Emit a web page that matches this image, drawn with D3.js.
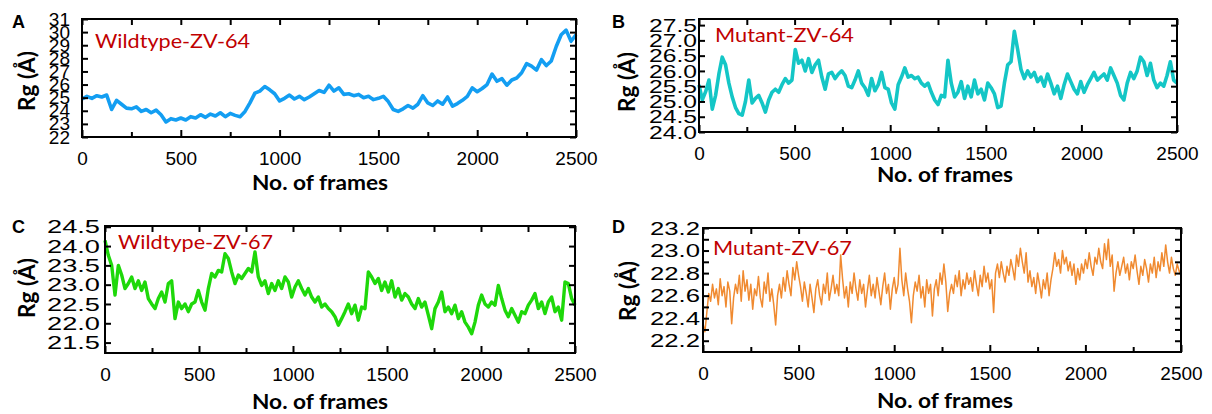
<!DOCTYPE html>
<html>
<head>
<meta charset="utf-8">
<script src="https://cdn.jsdelivr.net/npm/d3@7"></script>
<style>
  body { margin: 0; background: #fff; }
  svg { display: block; }
</style>
</head>
<body>
<svg id="fig" width="1212" height="414"></svg>
<script>
// x axis (frames)
const frameTicks = [0, 500, 1000, 1500, 2000, 2500]
const frameMinorTicks = [250, 750, 1250, 1750, 2250]

// y tick labels per panel
const rgTicksA = [22, 23, 24, 25, 26, 27, 28, 29, 30, 31]
const rgTicksB = [24.0, 24.5, 25.0, 25.5, 26.0, 26.5, 27.0, 27.5]
const rgTicksC = [21.5, 22.0, 22.5, 23.0, 23.5, 24.0, 24.5]
const rgTicksD = [22.2, 22.4, 22.6, 22.8, 23.0, 23.2]
const rgMinorD = [22.3, 22.5, 22.7, 22.9, 23.1]

// Rg values, evenly spaced over frames 0..2500
const wildtype64 = [
  24.9, 25.1, 24.95, 25.15, 25.05, 25.2, 24.1, 24.8, 24.5, 24.2,
  24.15, 24.3, 23.95, 24.1, 23.85, 24.05, 23.7, 23.15, 23.4, 23.3,
  23.45, 23.3, 23.55, 23.45, 23.7, 23.5, 23.75, 23.6, 23.85, 23.55,
  23.8, 23.65, 23.55, 23.95, 24.6, 25.35, 25.5, 25.85, 25.6, 25.3,
  24.75, 24.95, 25.2, 24.9, 25.1, 24.85, 25.05, 25.3, 25.55, 25.4,
  25.95, 25.5, 25.75, 25.25, 25.3, 25.15, 25.25, 25.0, 25.1, 24.85,
  24.95, 25.1, 24.7, 24.1, 23.95, 24.15, 24.4, 24.2, 24.5, 25.15,
  24.6, 24.4, 24.75, 24.5, 25.05, 24.35, 24.55, 24.8, 25.1, 25.75,
  25.45, 25.7, 26.0, 26.8, 26.25, 26.45, 25.95, 26.35, 26.5, 26.9,
  27.6, 27.4, 27.1, 27.9, 27.45, 27.8, 28.9, 29.8, 30.15, 29.3,
  29.8
]

const mutant64 = [
  25.54, 25.05, 25.32, 25.7, 24.75, 25.2, 25.9, 26.45, 26.2, 25.6,
  25.15, 24.8, 24.6, 24.55, 25.0, 25.7, 24.95, 25.1, 25.2, 24.95,
  24.65, 25.05, 25.3, 25.4, 25.3, 25.55, 25.75, 25.6, 25.7, 26.7,
  26.25, 26.35, 26.0, 26.4, 25.95, 26.2, 26.35, 25.8, 25.4, 25.9,
  25.95, 25.75, 25.9, 26.0, 25.85, 25.5, 25.45, 25.7, 26.0, 25.6,
  25.45, 25.2, 25.75, 25.35, 25.55, 25.95, 25.45, 25.4, 24.95, 24.75,
  25.55, 25.8, 26.1, 25.8, 25.85, 25.75, 25.8, 25.6, 25.5, 25.6,
  25.3, 25.05, 24.9, 25.2, 25.15, 26.35, 25.6, 25.15, 25.3, 25.65,
  25.1, 25.5, 25.15, 25.7, 25.25, 25.4, 25.05, 25.6, 25.45, 25.25,
  24.8, 24.85, 25.6, 26.2, 26.3, 27.3, 26.7, 26.05, 25.75, 26.0,
  25.8, 25.95, 25.65, 25.8, 25.5, 25.9, 25.6, 25.25, 25.5, 25.1,
  25.55, 25.9, 25.65, 25.4, 25.25, 25.65, 25.3, 25.55, 25.75, 25.95,
  25.7, 25.8, 25.9, 25.7, 26.1, 25.85, 25.6, 25.2, 25.05, 25.6,
  25.95, 25.75, 26.0, 26.45, 26.3, 25.85, 26.25, 25.7, 25.45, 25.6,
  25.5, 25.85, 26.3, 25.7, 25.6
]

const wildtype67 = [
  24.15, 23.76, 23.5, 22.73, 23.5, 23.25, 22.9, 23.03, 23.2, 22.9,
  23.1, 22.85, 23.07, 22.64, 22.5, 22.38, 22.64, 22.81, 22.55, 23.03,
  23.1, 22.12, 22.55, 22.38, 22.5, 22.3, 22.5, 22.55, 22.85, 22.55,
  22.34, 22.9, 23.29, 23.2, 23.37, 23.33, 23.8, 23.68, 23.33, 23.03,
  23.25, 23.16, 23.29, 23.42, 23.33, 23.85, 23.2, 22.98, 23.1, 22.77,
  23.03, 22.85, 23.1, 22.9, 23.2, 23.07, 22.68, 22.94, 23.1, 22.9,
  22.73, 22.9, 22.68, 22.55, 22.68, 22.42, 22.5, 22.38, 22.3, 22.17,
  21.95, 22.12, 22.3, 22.5, 22.25, 22.47, 22.08, 22.42, 22.38, 23.33,
  23.2, 23.03, 23.16, 22.85, 23.07, 22.81, 23.1, 22.68, 22.9, 22.6,
  22.77, 22.68, 22.5, 22.38, 22.64, 22.42, 22.55, 22.21, 21.86, 22.38,
  22.55, 22.81, 22.3, 22.42, 22.25, 22.47, 22.12, 22.3, 22.03, 21.9,
  21.73, 22.03, 22.47, 22.73, 22.5, 22.42, 22.55, 22.47, 22.98, 22.64,
  22.34, 22.17, 22.38, 22.21, 22.03, 22.3, 22.25, 22.47, 22.6, 22.77,
  22.38, 22.55, 22.25, 22.55, 22.68, 22.3, 22.42, 22.08, 23.07, 23.03,
  22.64, 22.47
]

const mutant67 = [
  22.35, 22.28, 22.45, 22.62, 22.55, 22.7, 22.58, 22.66, 22.52, 22.75,
  22.6, 22.68, 22.5, 22.72, 22.64, 22.35, 22.58, 22.7, 22.62, 22.78,
  22.55, 22.82, 22.64, 22.74, 22.56, 22.7, 22.48, 22.66, 22.6, 22.77,
  22.58, 22.5, 22.72, 22.62, 22.8, 22.55, 22.66, 22.52, 22.34, 22.6,
  22.7, 22.58, 22.76, 22.64, 22.82, 22.7, 22.6, 22.85, 22.74, 22.9,
  22.78, 22.68, 22.55, 22.72, 22.62, 22.5, 22.7, 22.58, 22.45, 22.66,
  22.74, 22.6, 22.52, 22.7, 22.62, 22.8, 22.56, 22.66, 22.78, 22.62,
  22.7, 22.6, 22.96, 22.75, 22.58, 22.68, 22.5, 22.72, 22.62, 22.8,
  22.66, 22.56, 22.74, 22.62, 22.7, 22.5, 22.65, 22.78, 22.6, 22.7,
  22.58, 22.76, 22.64, 22.52, 22.68, 22.8, 22.62, 22.7, 22.48, 22.66,
  22.76, 22.62, 22.7, 23.02, 22.74, 22.6, 22.8, 22.66, 22.55, 22.36,
  22.6, 22.72, 22.64, 22.78, 22.58, 22.68, 22.5, 22.74, 22.62, 22.7,
  22.42, 22.66, 22.74, 22.6, 22.8, 22.7, 22.88, 22.72, 22.46, 22.62,
  22.7, 22.62, 22.78, 22.68, 22.82, 22.6, 22.74, 22.66, 22.8, 22.7,
  22.76, 22.64, 22.82, 22.7, 22.6, 22.78, 22.68, 22.86, 22.72, 22.8,
  22.66, 22.74, 22.45, 22.8, 22.88, 22.76, 22.9, 22.8, 22.72, 22.86,
  22.78, 22.92, 22.84, 22.74, 22.96, 22.86, 23.02, 22.9, 22.8, 22.98,
  22.72, 22.82, 22.68, 22.76, 22.62, 22.8, 22.7, 22.58, 22.74, 22.66,
  22.8, 22.6, 22.74, 22.84, 22.98, 22.86, 22.92, 22.8, 23.0, 22.88,
  22.94, 22.82, 22.9, 22.78, 22.88, 22.7, 22.84, 22.74, 22.88, 22.8,
  22.92, 22.84, 22.98, 22.86, 22.78, 22.94, 22.88, 23.02, 22.9, 22.84,
  23.06, 22.92, 23.1, 22.86, 22.96, 22.64, 22.8, 22.9, 22.78, 22.86,
  22.94, 22.8, 22.88, 22.74, 22.9, 22.84, 22.96, 22.82, 22.7, 22.86,
  22.78, 22.92, 22.84, 22.72, 22.88, 22.8, 22.94, 22.76, 22.9, 22.82,
  22.98, 22.86, 23.05, 22.9, 22.8, 22.94, 22.84, 22.78, 22.88, 22.82,
  22.78
]

const panels = [
  { letter: 'A', title: 'Wildtype-ZV-64', values: wildtype64, color: '#139ef2', width: 3.6,
    left: 82, right: 576, top: 19, bottom: 137, yDomain: [22, 31], yTicks: rgTicksA, yMinor: [],
    fmt: d3.format('d'), gap: 12, labelLen: null,
    letterPos: [12, 28], titlePos: [95, 48, 155], xLabel: [320, 190], yLabel: [35, 81] },
  { letter: 'B', title: 'Mutant-ZV-64', values: mutant64, color: '#14c6c6', width: 3.6,
    left: 699, right: 1177, top: 19, bottom: 132, yDomain: [24, 27.7], yTicks: rgTicksB, yMinor: [],
    fmt: d3.format('.1f'), gap: 2, labelLen: 48,
    letterPos: [612, 28], titlePos: [715, 42, 139], xLabel: [945, 182], yLabel: [635, 82] },
  { letter: 'C', title: 'Wildtype-ZV-67', values: wildtype67, color: '#1ed80a', width: 3.4,
    left: 105, right: 575, top: 226, bottom: 353, yDomain: [21.23, 24.52], yTicks: rgTicksC, yMinor: [],
    fmt: d3.format('.1f'), gap: 5, labelLen: 53,
    letterPos: [12, 233], titlePos: [118, 249, 155], xLabel: [320, 409], yLabel: [35, 288] },
  { letter: 'D', title: 'Mutant-ZV-67', values: mutant67, color: '#f08a30', width: 1.5,
    left: 703, right: 1181, top: 228, bottom: 352, yDomain: [22.1, 23.2], yTicks: rgTicksD, yMinor: rgMinorD,
    fmt: d3.format('.1f'), gap: 3, labelLen: 50,
    letterPos: [612, 233], titlePos: [713, 255, 139], xLabel: [945, 408], yLabel: [636, 291] }
]

const svg = d3.select('#fig')
const tickFont = "'Liberation Sans', Arial, sans-serif"
const labelFont = "Lato, 'Open Sans', sans-serif"

function styleAxis (sel) {
  sel.select('.domain').remove()
  sel.selectAll('line').attr('stroke', '#000').attr('stroke-width', 2)
  sel.attr('font-family', tickFont).attr('font-size', 19)
  sel.selectAll('text').attr('fill', '#000')
}

function drawPanel (p) {
  const g = svg.append('g')
  const x = d3.scaleLinear().domain([0, 2500]).range([p.left, p.right])
  const y = d3.scaleLinear().domain(p.yDomain).range([p.bottom, p.top])
  const n = p.values.length
  const frames = p.values.map((v, i) => i * 2500 / (n - 1))

  g.append('path')
    .datum(p.values)
    .attr('fill', 'none')
    .attr('stroke', p.color)
    .attr('stroke-width', p.width)
    .attr('stroke-linejoin', 'round')
    .attr('d', d3.line().x((d, i) => x(frames[i])).y(d => y(d)))

  // bottom axis with labels, inward ticks
  g.append('g')
    .attr('transform', `translate(0,${p.bottom})`)
    .call(d3.axisBottom(x).tickValues(frameTicks).tickSize(-7).tickPadding(14.5).tickFormat(d3.format('d')))
    .call(styleAxis)
  g.append('g')
    .attr('transform', `translate(0,${p.bottom})`)
    .call(d3.axisBottom(x).tickValues(frameMinorTicks).tickSize(-5).tickFormat(''))
    .call(styleAxis)
  // top axis, ticks only
  g.append('g')
    .attr('transform', `translate(0,${p.top})`)
    .call(d3.axisTop(x).tickValues(frameTicks.concat(frameMinorTicks)).tickSize(-6).tickFormat(''))
    .call(styleAxis)

  // left axis
  const left = g.append('g')
    .attr('transform', `translate(${p.left},0)`)
    .call(d3.axisLeft(y).tickValues(p.yTicks).tickSize(-6).tickPadding(p.gap).tickFormat(p.fmt))
    .call(styleAxis)
  if (p.labelLen) {
    left.selectAll('text')
      .attr('textLength', p.labelLen)
      .attr('lengthAdjust', 'spacingAndGlyphs')
  }
  // right axis, ticks only
  const allY = p.yTicks.concat(p.yMinor)
  g.append('g')
    .attr('transform', `translate(${p.right},0)`)
    .call(d3.axisRight(y).tickValues(allY).tickSize(-6).tickFormat(''))
    .call(styleAxis)
  if (p.yMinor.length) {
    g.append('g')
      .attr('transform', `translate(${p.left},0)`)
      .call(d3.axisLeft(y).tickValues(p.yMinor).tickSize(-6).tickFormat(''))
      .call(styleAxis)
  }

  // frame box
  g.append('rect')
    .attr('x', p.left).attr('y', p.top)
    .attr('width', p.right - p.left).attr('height', p.bottom - p.top)
    .attr('fill', 'none').attr('stroke', '#000').attr('stroke-width', 2)

  // series name
  g.append('text')
    .attr('x', p.titlePos[0]).attr('y', p.titlePos[1])
    .attr('textLength', p.titlePos[2]).attr('lengthAdjust', 'spacingAndGlyphs')
    .attr('font-family', labelFont).attr('font-size', 20)
    .attr('fill', '#c00000')
    .text(p.title)

  // panel letter
  g.append('text')
    .attr('x', p.letterPos[0]).attr('y', p.letterPos[1])
    .attr('font-family', tickFont).attr('font-size', 18).attr('font-weight', 'bold')
    .text(p.letter)

  // axis titles
  g.append('text')
    .attr('x', p.xLabel[0]).attr('y', p.xLabel[1])
    .attr('text-anchor', 'middle')
    .attr('textLength', 136).attr('lengthAdjust', 'spacingAndGlyphs')
    .attr('font-family', labelFont).attr('font-size', 21).attr('font-weight', 'bold')
    .text('No. of frames')

  g.append('text')
    .attr('transform', `translate(${p.yLabel[0]},${p.yLabel[1]}) rotate(-90)`)
    .attr('text-anchor', 'middle')
    .attr('textLength', 60).attr('lengthAdjust', 'spacingAndGlyphs')
    .attr('font-family', labelFont).attr('font-size', 22).attr('font-weight', 'bold')
    .text('Rg (Å)')
}

panels.forEach(drawPanel)
</script>
</body>
</html>
